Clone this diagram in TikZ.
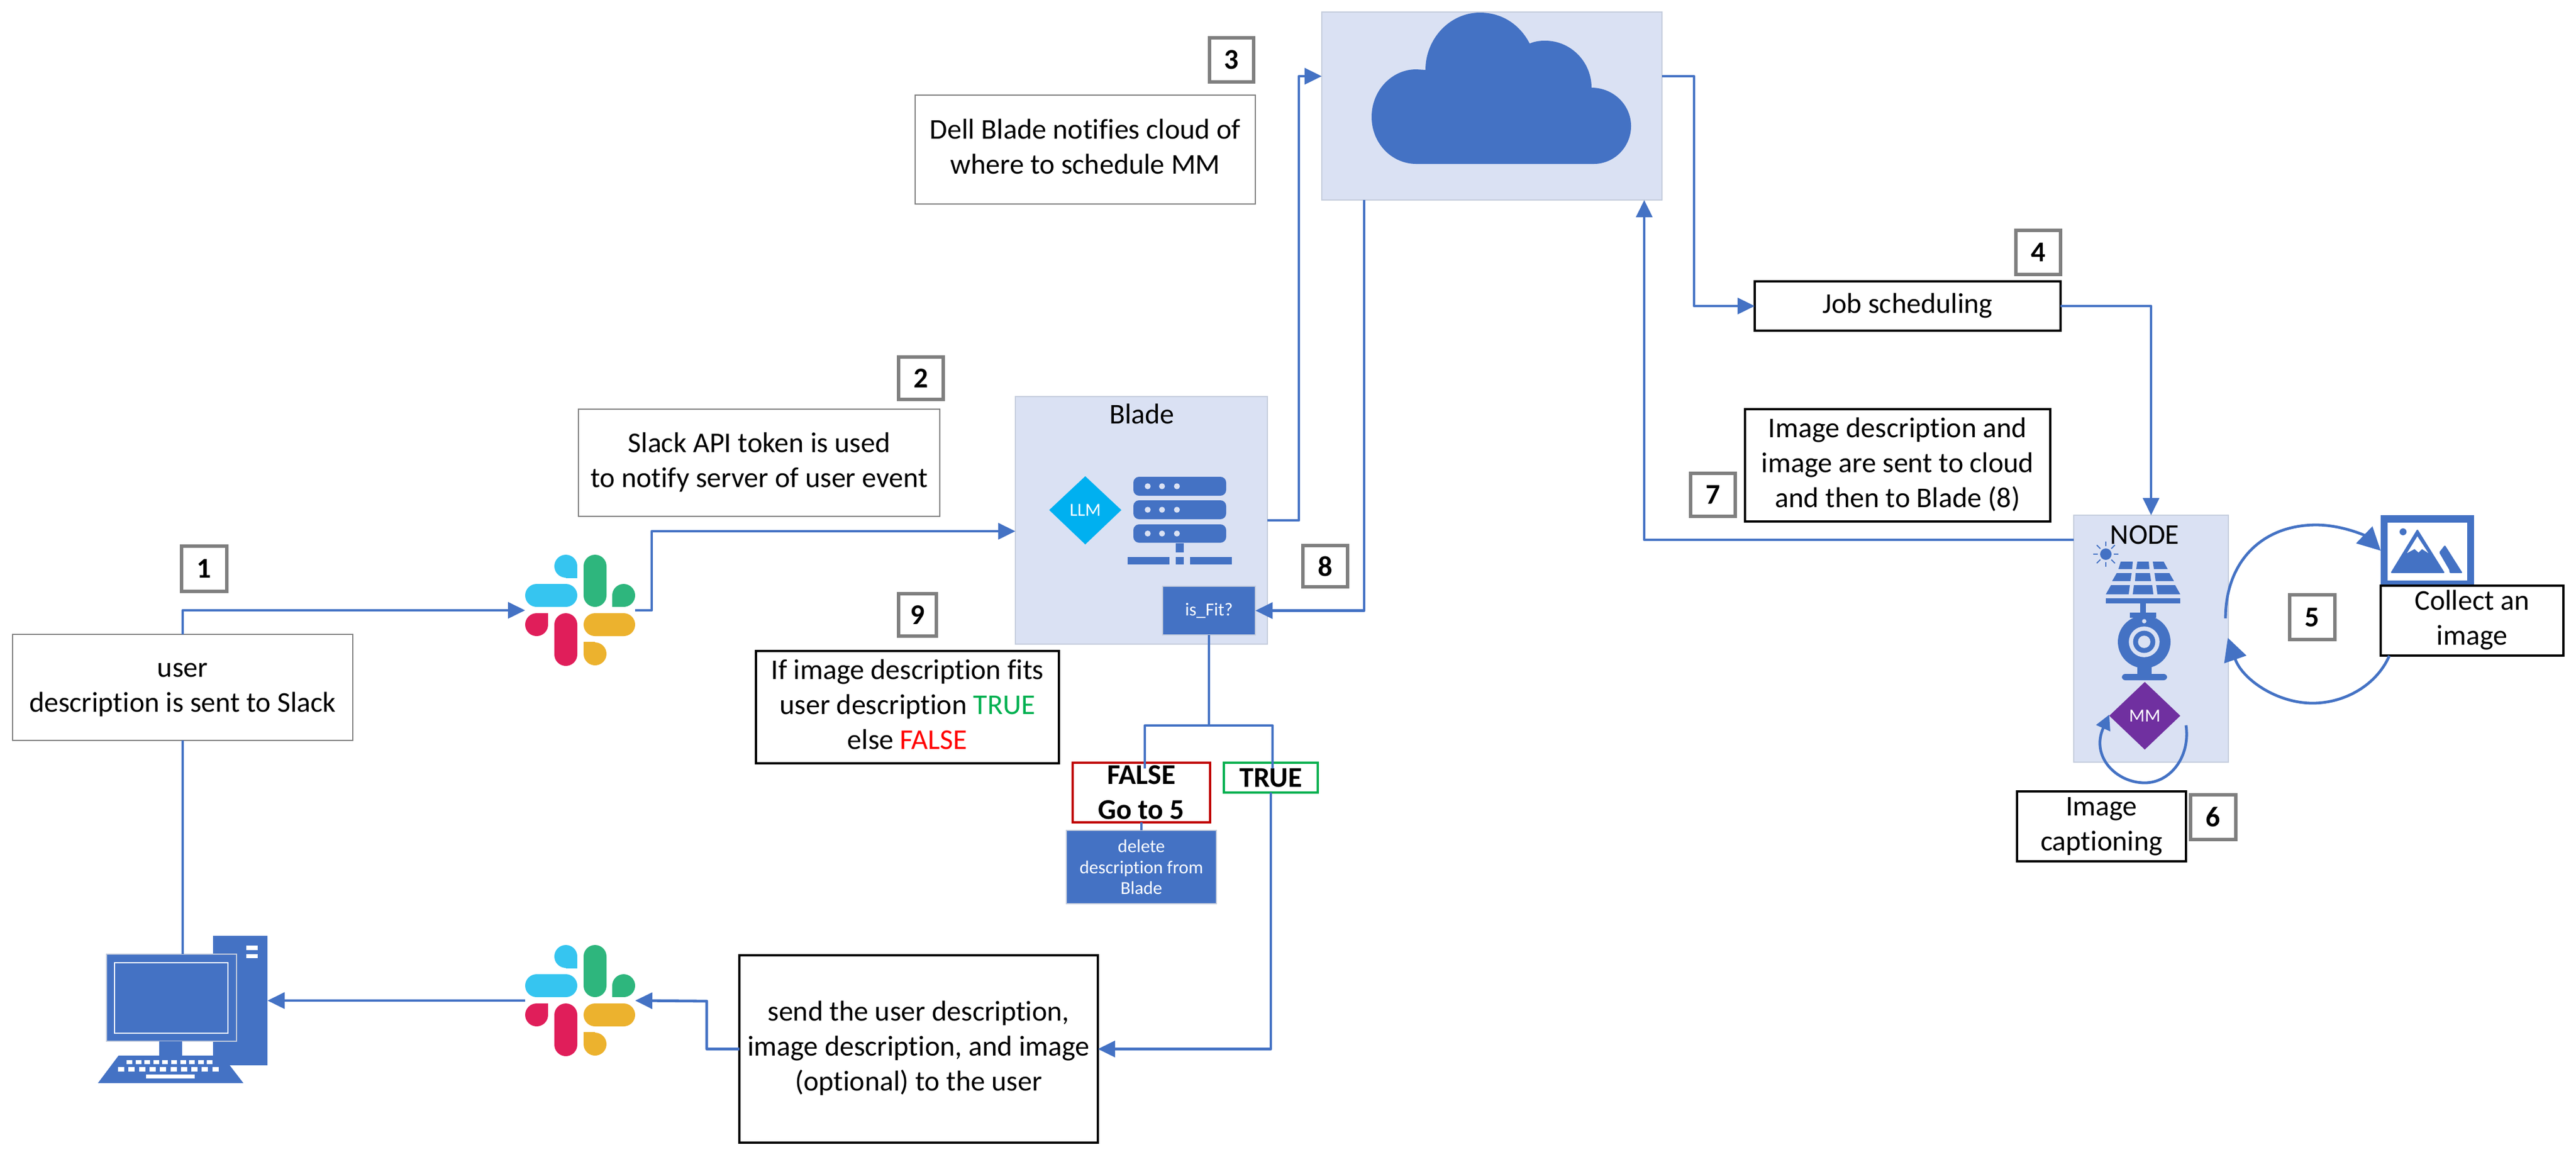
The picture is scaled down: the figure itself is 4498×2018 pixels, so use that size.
\documentclass[tikz,border=0pt]{standalone}
\usepackage{fontspec}
\setmainfont[Ligatures=NoCommon]{Carlito}
\usetikzlibrary{arrows.meta}
\definecolor{azure}{HTML}{4472C4}
\definecolor{pale}{HTML}{DAE1F3}
\definecolor{paleedge}{HTML}{C4CCDC}
\definecolor{numgray}{HTML}{7F7F7F}
\definecolor{llmblue}{HTML}{00B0F0}
\definecolor{mmpurple}{HTML}{7030A0}
\definecolor{trueg}{HTML}{00B050}
\definecolor{falser}{HTML}{C00000}
\definecolor{slackc}{HTML}{36C5F0}
\definecolor{slackg}{HTML}{2EB67D}
\definecolor{slackr}{HTML}{E01E5A}
\definecolor{slacky}{HTML}{ECB22E}
\tikzset{
  basebox/.style={inner sep=0pt,outer sep=0pt,align=center,font=\fontsize{12.5}{15.2}\selectfont},
  lightpanel/.style={basebox,fill=pale,draw=paleedge,line width=0.4pt},
  graybox/.style={basebox,fill=white,draw=numgray,line width=0.45pt},
  blackbox/.style={basebox,fill=white,draw=black,line width=1pt},
  numbox/.style={basebox,fill=white,draw=numgray,line width=1.5pt,font=\fontsize{12.5}{15.2}\selectfont\bfseries},
  solidblue/.style={basebox,fill=azure,draw=paleedge,line width=0.3pt,text=white,font=\fontsize{8}{9.2}\selectfont},
  ghost/.style={inner sep=0pt,outer sep=0pt},
  wire/.style={draw=azure,line width=1.2pt,line join=round},
  wirehead/.style={wire,-{Triangle[length=7.5pt,width=7pt]}},
  bighead/.style={wire,-{Triangle[length=10pt,width=10pt]}},
  smallhead/.style={wire,-{Triangle[length=6.5pt,width=6.5pt]}}
}
\newcommand{\bx}[7]{\node[#1,minimum width={(#4-#2)*0.25pt},minimum height={(#5-#3)*0.25pt}] (#6) at ({(#2+#4)/2},{(#3+#5)/2}) {#7};}
\newcommand{\firststrut}{\rule{0pt}{10.8pt}}
\newcommand{\laststrut}{\rule[-4.7pt]{0pt}{0pt}}
\newcommand{\slacklogo}[3]{%
  \bx{ghost}{#2}{#3}{#2+192}{#3+194}{#1}{}
  \begin{scope}[shift={(#2,#3)}]
    \fill[slackc,rounded corners=5pt] (0,51) rectangle (91,91);
    \fill[slackc] (71,20) circle [radius=5pt];
    \fill[slackc] (71,20) rectangle (91,41);
    \fill[slackg,rounded corners=5pt] (102,0) rectangle (142,91);
    \fill[slackg] (172,71) circle [radius=5pt];
    \fill[slackg] (152,71) rectangle (172,91);
    \fill[slackr,rounded corners=5pt] (51,102) rectangle (91,194);
    \fill[slackr] (20,122) circle [radius=5pt];
    \fill[slackr] (20,102) rectangle (40,122);
    \fill[slacky,rounded corners=5pt] (102,102) rectangle (192,142);
    \fill[slacky] (122,173) circle [radius=5pt];
    \fill[slacky] (102,152) rectangle (122,173);
  \end{scope}}
\begin{document}
\begin{tikzpicture}[x=0.25pt,y=-0.25pt]
\useasboundingbox (0,0) rectangle (4498,2018);

% panels
\bx{lightpanel}{2308}{21}{2902}{349}{cloud}{}
\bx{lightpanel}{1773}{692}{2213}{1124}{blade}{}
\bx{lightpanel}{3621}{899}{3891}{1330}{nodebox}{}
\node[basebox] (bladetitle) at (1994,722) {Blade};
\node[basebox] (nodetitle) at (3745,933) {NODE};

% cloud
\fill[azure] (2473,286) -- (2783,286)
  .. controls (2819,286) and (2848,256) .. (2848,220)
  .. controls (2848,183) and (2817,153) .. (2779,153)
  .. controls (2779,108) and (2743,71) .. (2698,71)
  .. controls (2689,71) and (2680,72) .. (2671,76)
  .. controls (2655,45) and (2625,22) .. (2584,22)
  .. controls (2532,22) and (2489,67) .. (2489,122)
  -- (2473,121)
  .. controls (2430,121) and (2395,158) .. (2395,204)
  .. controls (2395,250) and (2430,286) .. (2473,286) -- cycle;

% server
\foreach \ya/\yb in {832/865,873/906,915/947}{
  \fill[azure,rounded corners=2.5pt] (1979,\ya) rectangle (2141,\yb);
  \foreach \xd in {2004,2029,2055}
    \fill[pale] (\xd,{(\ya+\yb)/2}) circle [radius=1.3pt];
}
\fill[azure] (2053,948) rectangle (2067,964);
\fill[azure] (1969,972) rectangle (2042,985);
\fill[azure] (2053,972) rectangle (2067,985);
\fill[azure] (2078,972) rectangle (2151,985);
\path[fill=llmblue] (1832,890) -- (1895,831) -- (1958,890) -- (1895,950) -- cycle;
\node[basebox,text=white,font=\fontsize{8}{9.2}\selectfont] (llm) at (1895,890) {LLM};
\bx{solidblue}{2030}{1023}{2192}{1108}{isfit}{is\_Fit?}

% node icons
\fill[azure] (3677,967) circle [radius=2.5pt];
\foreach \a in {0,45,...,315}
  \draw[azure,line width=0.5pt] (3677,967) ++(\a:3.4pt) -- ++(\a:2.2pt);
\fill[azure] (3703,980) -- (3724,980) -- (3723,993) -- (3699,993) -- cycle;
\fill[azure] (3732,980) -- (3752,980) -- (3753,993) -- (3730,993) -- cycle;
\fill[azure] (3759,980) -- (3778,980) -- (3785,993) -- (3761,993) -- cycle;
\fill[azure] (3696,1000) -- (3722,1000) -- (3720,1014) -- (3688,1014) -- cycle;
\fill[azure] (3729,1000) -- (3754,1000) -- (3756,1014) -- (3728,1014) -- cycle;
\fill[azure] (3762,1000) -- (3788,1000) -- (3796,1014) -- (3764,1014) -- cycle;
\fill[azure] (3686,1021) -- (3719,1021) -- (3717,1037) -- (3677,1037) -- cycle;
\fill[azure] (3726,1021) -- (3758,1021) -- (3760,1037) -- (3724,1037) -- cycle;
\fill[azure] (3765,1021) -- (3798,1021) -- (3807,1037) -- (3767,1037) -- cycle;
\fill[azure] (3677,1044) rectangle (3807,1053);
\fill[azure] (3737,1053) rectangle (3747,1069);
\fill[azure] (3719,1069) rectangle (3765,1078);
\fill[azure] (3744,1120) circle [radius=11.5pt];
\fill[pale] (3744,1120) circle [radius=6.7pt];
\fill[azure] (3744,1120) circle [radius=4.85pt];
\fill[pale] (3744,1120) circle [radius=2.7pt];
\fill[pale] (3744,1084) circle [radius=0.95pt];
\fill[azure] (3732,1160) rectangle (3757,1178);
\fill[azure,rounded corners=1.5pt] (3705,1187) -- (3705,1176) -- (3784,1176) -- (3784,1187) -- cycle;
\path[fill=mmpurple] (3683,1249) -- (3745,1190) -- (3807,1249) -- (3745,1308) -- cycle;
\node[basebox,text=white,font=\fontsize{8}{9.2}\selectfont] (mm) at (3745,1249) {MM};

% image icon
\bx{ghost}{4157}{899}{4320}{1023}{picicon}{}
\fill[azure] (4157,899) rectangle (4320,1025);
\fill[white] (4169,912) rectangle (4308,1013);
\fill[azure] (4196,928) circle [radius=1.5pt];
\fill[azure,rounded corners=0.6pt] (4221,923) -- (4269,1000) -- (4174,1000) -- cycle;
\fill[white] (4221,936) -- (4240,965) -- (4229,958) -- (4223,964) -- (4216,958) -- (4203,965) -- cycle;
\fill[azure,rounded corners=0.4pt] (4269,951) -- (4300,1000) -- (4277,1000) -- (4277,995) -- (4259,964) -- cycle;

% computer
\bx{ghost}{186}{1633}{467}{1890}{computer}{}
\fill[azure] (372,1633) rectangle (467,1859);
\fill[white] (430,1650) rectangle (450,1658);
\fill[white] (430,1665) rectangle (450,1672);
\bx{ghost}{186}{1665}{413}{1817}{monitor}{}
\fill[azure,draw=paleedge,line width=0.3pt] (186,1665) rectangle (413,1817);
\draw[white,line width=0.3pt] (200,1680) rectangle (398,1803);
\fill[azure] (278,1817) rectangle (318,1842);
\fill[azure] (207,1842) -- (388,1842) -- (425,1890) -- (171,1890) -- cycle;
\foreach \i in {0,...,9}{
  \fill[white] ({222+\i*15.6-1},1850) rectangle ({222+\i*15.6+9},1857);
  \fill[white] ({207+\i*18.3-1},1862) rectangle ({207+\i*18.3+10},1870);
}
\fill[white] (255,1875) rectangle (340,1882);

% slack logos
\slacklogo{slackup}{917}{968}
\slacklogo{slackdown}{917}{1649}

% text boxes
\bx{graybox}{22}{1107}{616}{1292}{user}{\firststrut user\\description is sent to Slack\laststrut}
\bx{graybox}{1010}{714}{1641}{901}{apibox}{\firststrut Slack API token is used\\to notify server of user event\laststrut}
\bx{graybox}{1598}{166}{2192}{356}{dellbox}{\firststrut Dell Blade notifies cloud of\\where to schedule MM\laststrut}
\bx{blackbox}{3064}{491}{3598}{577}{job}{\firststrut Job scheduling\laststrut}
\bx{blackbox}{3047}{714}{3580}{910}{sentbox}{\firststrut Image description and\\image are sent to cloud\\and then to Blade (8)\laststrut}
\bx{blackbox}{1320}{1136}{1849}{1332}{fitbox}{\firststrut If image description fits\\user description {\color{trueg}TRUE}\\else {\color{red}FALSE}\laststrut}
\bx{blackbox}{1291}{1667}{1917}{1994}{sendbox}{\firststrut send the user description,\\image description, and image\\(optional) to the user\laststrut}
\bx{blackbox}{4157}{1025}{4476}{1141}{collect}{\firststrut Collect an\\image\laststrut}
\bx{blackbox}{3522}{1382}{3817}{1502}{caption}{\firststrut Image\\captioning\laststrut}
\bx{basebox,fill=white,draw=falser,line width=1pt,font=\fontsize{12.5}{15.2}\selectfont\bfseries}{1873}{1331}{2113}{1435}{falsebox}{FALSE\\Go to 5}
\bx{basebox,fill=white,draw=trueg,line width=1pt,font=\fontsize{12.5}{15.2}\selectfont\bfseries}{2137}{1331}{2301}{1383}{truebox}{TRUE}
\bx{solidblue}{1862}{1449}{2124}{1577}{delbox}{delete\\description from\\Blade}

% number labels
\bx{numbox}{317}{953}{396}{1032}{numa}{1}
\bx{numbox}{1569}{623}{1647}{697}{numb}{2}
\bx{numbox}{2112}{66}{2189}{143}{numc}{3}
\bx{numbox}{3520}{402}{3598}{479}{numd}{4}
\bx{numbox}{3998}{1038}{4077}{1116}{nume}{5}
\bx{numbox}{3825}{1387}{3904}{1465}{numf}{6}
\bx{numbox}{2952}{826}{3030}{901}{numg}{7}
\bx{numbox}{2275}{952}{2353}{1024}{numh}{8}
\bx{numbox}{1569}{1036}{1635}{1110}{numi}{9}

% connectors
\coordinate (fork) at (2111,1266);
\draw[wirehead] (user.north) |- (slackup.west);
\draw[wirehead] (slackup.east) -| (1138,927) -- (blade.west |- 0,927);
\draw[wire] (user.south) -- (user.south |- monitor.north);
\draw[wirehead] (blade.east) -| (2268,133) -- (cloud.west |- 0,133);
\draw[wirehead] (cloud.east |- 0,133) -| (2958,534) -- (job.west);
\draw[wirehead] (job.east) -| (nodebox.north);
\draw[wirehead] (nodebox.west |- 0,942) -| (2871,349);
\draw[wirehead] (2382,349) |- (isfit.east);
\draw[wire] (isfit.south) -- (fork);
\draw[wire] (fork) -- (1999,1266) -- (1999,1341);
\draw[wire] (fork) -- (2222,1266) -- (2222,1341);
\draw[wire] (falsebox.south) -- (delbox.north);
\draw[wirehead] (truebox.south) |- (sendbox.east);
\draw[wirehead] (sendbox.west) -| (1234,1747) -- (slackdown.east);
\draw[wirehead] (slackdown.west) -- (1013,1746 -| 467,0);
\draw[bighead] (3886,1079) .. controls (3886,980) and (3950,916) .. (4044,916)
  .. controls (4090,916) and (4130,935) .. (picicon.west);
\draw[bighead] (collect.south west) ++(15,0) .. controls (4150,1195) and (4095,1227) .. (4038,1227)
  .. controls (3975,1227) and (3915,1185) .. (3890,1113);
\draw[smallhead] (caption.north east) ++(0,-115) .. controls (3825,1320) and (3790,1366) .. (3745,1366)
  .. controls (3695,1366) and (3650,1320) .. (3683,1247);
\end{tikzpicture}
\end{document}
